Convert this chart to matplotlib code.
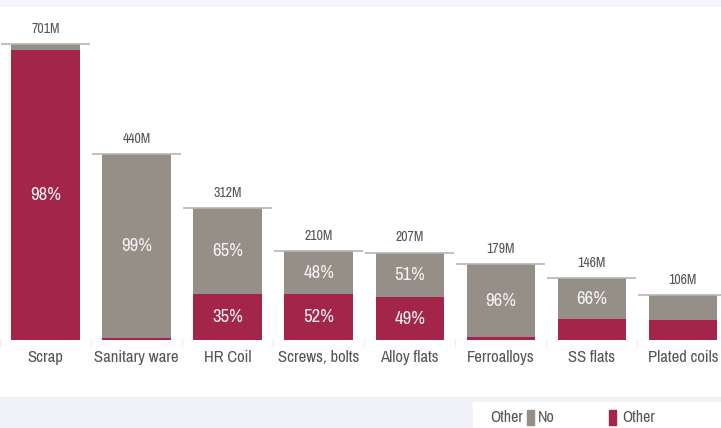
import numpy as np
import matplotlib.pyplot as plt
from matplotlib.patches import Rectangle

# Dati
categories = ["Scrap", "Sanitary ware", "HR Coil", "Screws, bolts",
              "Alloy flats", "Ferroalloys", "SS flats", "Plated coils"]
totals = np.array([701, 440, 312, 210, 207, 179, 146, 106])  # milioni
other_pct = np.array([98, 1, 35, 52, 49, 4, 34, 45])
no_pct = 100 - other_pct

red = "#a3264a"
grey = "#958f88"
txt = "#555555"
plt.rcParams['font.family'] = ['Archivo Narrow', 'DejaVu Sans']

W, H = 721, 428
fig = plt.figure(figsize=(W / 100, H / 100), dpi=100)
fig.patch.set_facecolor("white")

# fasce di sfondo
fig.patches.append(Rectangle((0, 1 - 6 / H), 1, 6 / H, transform=fig.transFigure,
                             color="#f4f5fa", zorder=0))
fig.patches.append(Rectangle((0, 0), 1, 31 / H, transform=fig.transFigure,
                             color="#f1f2f7", zorder=0))
fig.patches.append(Rectangle((473 / W, 0), 1, 26 / H, transform=fig.transFigure,
                             color="white", zorder=1))

ax = fig.add_axes([0, (H - 340) / H, 1, 334 / H])
ax.set_xlim(-0.5, 7.42)
ax.set_ylim(0, 791)
ax.axis("off")

x = np.arange(len(categories))
other_val = totals * other_pct / 100
no_val = totals - other_val

ax.bar(x, other_val, width=0.75, color=red, zorder=2)
ax.bar(x, no_val, width=0.75, bottom=other_val, color=grey, zorder=2)

for i in x:
    ax.hlines(totals[i], i - 0.49, i + 0.49, color="#b5b5b5", lw=1.2, zorder=3)
    ax.text(i, totals[i] + 20, f"{totals[i]}M", ha="center", va="bottom",
            fontsize=10, color=txt)
    if other_val[i] >= 60:
        ax.text(i, other_val[i] / 2, f"{other_pct[i]}%", ha="center", va="center",
                fontsize=13.5, color="#f2f2f2", zorder=4)
    if no_val[i] >= 60:
        ax.text(i, other_val[i] + no_val[i] / 2, f"{no_pct[i]}%", ha="center",
                va="center", fontsize=13.5, color="#f2f2f2", zorder=4)
    ax.text(i, -24, categories[i], ha="center", va="top", fontsize=12, color=txt,
            clip_on=False)

# linea di base e tacche
ax.axhline(0, color="#e2e2e2", lw=1, zorder=1)
for b in np.arange(-0.5, 8, 1):
    ax.plot([b, b], [0, -14], color="#eeeeee", lw=1, clip_on=False)

# legenda
ly = 10 / H
fig.text(523 / W, ly, "Other", fontsize=11.5, color=txt, va="center", ha="right")
fig.patches.append(Rectangle((527 / W, ly - 7 / H), 7 / W, 15 / H,
                             transform=fig.transFigure, color=grey, zorder=3))
fig.text(538 / W, ly, "No", fontsize=11.5, color=txt, va="center")
fig.patches.append(Rectangle((609 / W, ly - 7 / H), 7 / W, 15 / H,
                             transform=fig.transFigure, color=red, zorder=3))
fig.text(622 / W, ly, "Other", fontsize=11.5, color=txt, va="center")

fig.savefig("out.png", dpi=100)
